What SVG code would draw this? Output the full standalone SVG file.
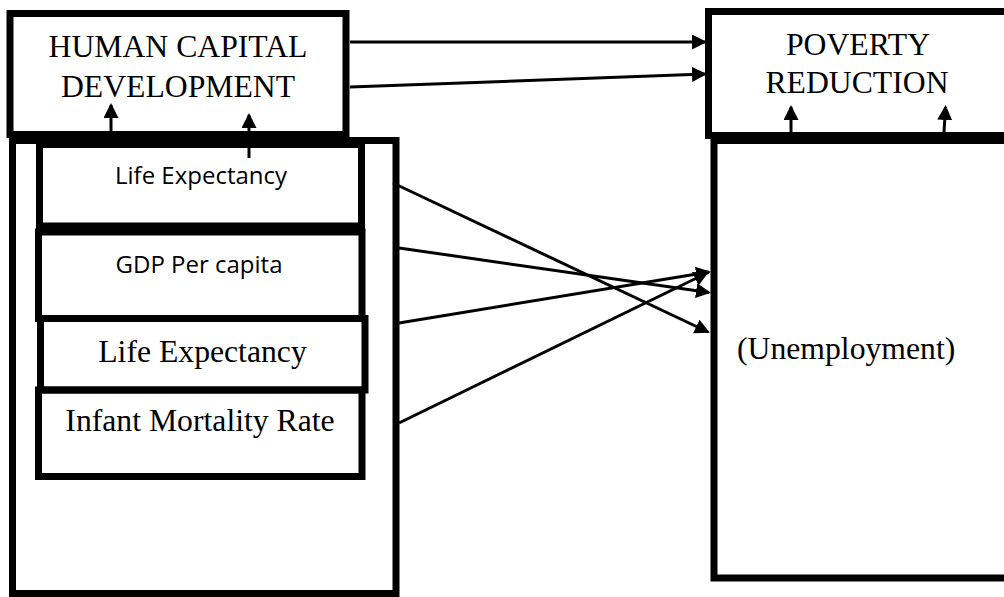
<svg xmlns="http://www.w3.org/2000/svg" width="1004" height="597" viewBox="0 0 1004 597">
<defs>
<style>
.box{fill:none;stroke:#000;stroke-width:7}
.serif{font-family:"Liberation Serif","Times New Roman",serif;font-size:31.7px;fill:#000}
.sans{font-family:"Open Sans","Liberation Sans",sans-serif;font-size:24px;fill:#000}
.c{text-anchor:middle}
.con{fill:none;stroke:#000;stroke-width:3;marker-end:url(#ah)}
</style>
<marker id="ah" markerUnits="userSpaceOnUse" markerWidth="17" markerHeight="17" refX="13" refY="7.5" orient="auto">
<path d="M0,0 L15,7.5 L0,15 z" fill="#000"/>
</marker>
</defs>
<rect width="1004" height="597" fill="#fff"/>
<g id="outer-left">
<rect class="box" x="12.5" y="140.5" width="383.5" height="453"/>
</g>
<g id="human-capital">
<rect class="box" x="10" y="13.5" width="336" height="121"/>
<text class="serif c" x="178" y="57">HUMAN CAPITAL</text>
<text class="serif c" x="178" y="97">DEVELOPMENT</text>
</g>
<g id="life-expectancy-1">
<rect class="box" x="39.5" y="144.5" width="322" height="81.5"/>
<text class="sans c" x="201" y="184">Life Expectancy</text>
</g>
<g id="gdp">
<rect class="box" x="38.5" y="232" width="323.5" height="86.5"/>
<text class="sans c" x="199" y="273">GDP Per capita</text>
</g>
<g id="life-expectancy-2">
<rect class="box" x="40.5" y="318.5" width="324.5" height="71.5"/>
<text class="serif c" x="202.5" y="362">Life Expectancy</text>
</g>
<g id="infant-mortality">
<rect class="box" x="38.5" y="390" width="323.5" height="86.5"/>
<text class="serif c" x="200" y="431">Infant Mortality Rate</text>
</g>
<g id="poverty-reduction">
<rect class="box" x="708.5" y="11.5" width="310" height="124"/>
<text class="serif c" x="858" y="55">POVERTY</text>
<text class="serif c" x="857" y="93">REDUCTION</text>
</g>
<g id="unemployment">
<rect class="box" x="714" y="140.5" width="310" height="437.5"/>
<text class="serif" x="737" y="359">(Unemployment)</text>
</g>
<g id="connectors">
<line class="con" x1="350" y1="42" x2="705" y2="42"/>
<line class="con" x1="350" y1="87" x2="705" y2="74"/>
<line class="con" x1="111" y1="132" x2="111" y2="105"/>
<line class="con" x1="249" y1="158" x2="249" y2="115"/>
<line class="con" x1="791" y1="132" x2="791" y2="107"/>
<line class="con" x1="944" y1="132" x2="945.5" y2="107"/>
<line class="con" x1="393" y1="183" x2="708" y2="332"/>
<line class="con" x1="399" y1="248" x2="709" y2="292.5"/>
<line class="con" x1="399" y1="323" x2="709" y2="272"/>
<line class="con" x1="399" y1="423" x2="707" y2="273"/>
</g>
</svg>
